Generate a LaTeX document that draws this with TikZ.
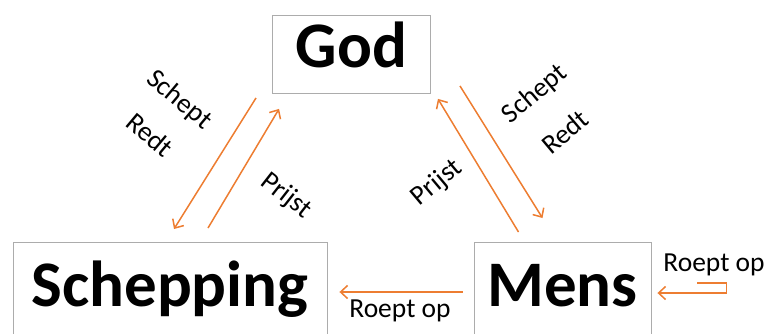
\documentclass[tikz,border=0pt]{standalone}
\usepackage{fontspec}
\setmainfont{Carlito}
\usetikzlibrary{calc, arrows.meta}
\definecolor{relcolor}{HTML}{ED7D31}
\tikzset{
  entity/.style={draw=gray!65, line width=0.9pt, inner sep=0pt, anchor=north,
    font=\fontsize{65}{70}\selectfont\bfseries},
  relation/.style={draw=relcolor, line width=1.5pt,
    -{Straight Barb[length=7pt,width=13pt,line width=1.5pt]}},
  verb/.style={font=\fontsize{27.5}{30}\selectfont, inner sep=0pt},
}
\begin{document}
\begin{tikzpicture}[x=1pt,y=-1pt]
\useasboundingbox (0,0) rectangle (769,333);
% the three boxes
\node[entity, minimum width=158pt, text height=52pt, text depth=26pt] (god) at (351.5,15) {God};
\node[entity, minimum width=314pt, text height=64pt, text depth=50pt] (schepping) at (170,242) {Schepping};
\node[entity, minimum width=177pt, text height=64pt, text depth=50pt] (mens) at (562.5,242) {Mens};

% God <-> Schepping
\draw[relation] ($(god.south west)+(-16,4)$) -- ($(schepping.north)+(4,-13)$);
\draw[relation] ($(schepping.north)+(38,-14)$) -- ($(god.south west)+(7,15)$);
\node[verb, rotate=-40] (schept1) at (179,100) {Schept};
\node[verb, rotate=-40] (redt1) at (150,135) {Redt};
\node[verb, rotate=-38] (prijst1) at (286,196) {Prijst};

% God <-> Mens
\draw[relation] ($(mens.north)+(-44,-10)$) -- ($(god.south east)+(7,5)$);
\draw[relation] ($(god.south east)+(29,-8)$) -- ($(mens.north)+(-20,-24)$);
\node[verb, rotate=40] (schept2) at (535,94) {Schept};
\node[verb, rotate=40] (redt2) at (565,132) {Redt};
\node[verb, rotate=40] (prijst2) at (437,183) {Prijst};

% Mens -> Schepping
\draw[relation] ($(mens.north west)+(-11,50)$) -- ($(schepping.north east)+(12,50)$);
\node[verb] (roept1) at (400,311) {Roept op};

% Mens -> Mens
\coordinate (loopa) at ($(mens.north east)+(46,41)$);
\coordinate (loopb) at ($(mens.north east)+(75,41)$);
\coordinate (loopend) at ($(mens.north east)+(6,51)$);
\draw[relation, line width=1.2pt] (loopa) -- (loopb) |- (loopend);
\node[verb] (roept2) at (714,265) {Roept op};
\end{tikzpicture}
\end{document}
